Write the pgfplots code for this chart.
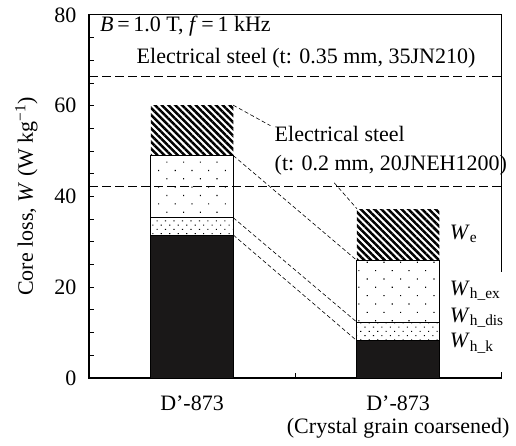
\documentclass[border=0pt]{standalone}
\usepackage{fontspec}
\setmainfont{Liberation Serif}
\usepackage{pgfplots}
\pgfplotsset{compat=1.18}
\usetikzlibrary{patterns.meta}

\definecolor{barblack}{RGB}{26,24,24}
\newcommand\chartfont{\fontsize{22}{23}\selectfont}

% core-loss components (W/kg): kinetic, dislocation, excess hysteresis, eddy current
\pgfplotstableread{
x   hk    hdis  hex   e
0   31.5  3.8   13.7  11.1
1   8.2   4.1   13.6  11.3
}\losstable

\begin{document}
\chartfont
\begin{tikzpicture}[every node/.append style={font=\chartfont}]
\pgfplotsset{
  frame/.style={
    width=412pt, height=363pt, scale only axis,
    xmin=-0.5, xmax=1.5, ymin=0, ymax=80,
  },
}
\begin{axis}[
  frame,
  ybar stacked, bar width=0.4,
  axis line style={line width=1.1pt},
  tick align=inside,
  major tick length=5pt, minor tick length=5pt,
  tick style={line width=0.9pt, black},
  ytick={0,20,40,60,80},
  minor ytick={5,10,...,75},
  ytick pos=left,
  xtick={0.5,1.5}, xticklabels={},
  xtick pos=bottom,
  extra x ticks={0,1},
  extra x tick labels={D’-873, {D’-873\\(Crystal grain coarsened)}},
  extra x tick style={major tick length=0pt,
    tick label style={align=center, yshift=-10pt, font=\chartfont}},
  /pgf/number format/assume math mode=true,
  tick label style={font=\chartfont},
  yticklabel style={xshift=-5pt},
  ylabel={Core loss, \textit{W} (W kg\textsuperscript{−1})},
  ylabel style={font=\chartfont, yshift=2pt},
]
\addplot[fill=barblack, draw=black, line width=0.9pt] table[x=x, y=hk] {\losstable};
\addplot[pattern={Dots[distance=6pt, angle=45, radius=0.75pt]}, draw=black, line width=0.9pt] table[x=x, y=hdis] {\losstable};
\addplot[pattern={Dots[distance=11.8pt, angle=45, radius=0.8pt]}, draw=black, line width=0.9pt] table[x=x, y=hex] {\losstable};
\addplot[pattern={Lines[angle=-45, distance=4.8pt, line width=2.5pt]}, draw=none] table[x=x, y=e] {\losstable};
\coordinate (bbll) at (rel axis cs:-0.216,-0.187);
\coordinate (bbur) at (rel axis cs:1.036,1.041);
\end{axis}

\begin{axis}[frame, hide axis, clip=false]
% reference steels
\addplot[black, line width=0.9pt, dash pattern=on 9pt off 4pt] coordinates {(-0.5,66.4) (1.5,66.4)};
\addplot[black, line width=0.9pt, dash pattern=on 9pt off 4pt] coordinates {(-0.5,42.2) (1.5,42.2)};
% leaders linking the components of the two bars
\addplot[black, line width=0.6pt, dash pattern=on 4pt off 2.5pt] coordinates {(0.2,60.1) (0.38,55.6)};
\addplot[black, line width=0.6pt, dash pattern=on 4pt off 2.5pt] coordinates {(0.69,43.0) (0.8,37.3)};
\addplot[black, line width=0.6pt, dash pattern=on 4pt off 2.5pt] coordinates {(0.2,49.0) (0.8,25.9)};
\addplot[black, line width=0.6pt, dash pattern=on 4pt off 2.5pt] coordinates {(0.2,35.3) (0.8,12.3)};
\addplot[black, line width=0.6pt, dash pattern=on 4pt off 2.5pt] coordinates {(0.2,31.5) (0.8,8.2)};
% right frame is interrupted beside the component labels
\addplot[white, line width=3pt] coordinates {(1.5,23.4) (1.5,1.3)};
\node[anchor=base west, inner sep=0pt] at (axis cs:-0.447,76.3) {\textit{B}\,=\,1.0 T, \textit{f}\,=\,1 kHz};
\node[anchor=base, inner sep=0pt] at (axis cs:0.553,69.2) {Electrical steel (t: 0.35 mm, 35JN210)};
\node[anchor=base west, inner sep=0pt] at (axis cs:0.40,52.0) {Electrical steel};
\node[anchor=base west, inner sep=0pt] at (axis cs:0.40,45.7) {(t: 0.2 mm, 20JNEH1200)};
\node[anchor=west, inner sep=0pt] at (axis cs:1.25,31.8) {\textit{W}\textsubscript{e}};
\node[anchor=west, inner sep=0pt] at (axis cs:1.25,19.2) {\textit{W}\textsubscript{h\_ex}};
\node[anchor=west, inner sep=0pt] at (axis cs:1.25,13.3) {\textit{W}\textsubscript{h\_dis}};
\node[anchor=west, inner sep=0pt] at (axis cs:1.25,7.6) {\textit{W}\textsubscript{h\_k}};
\end{axis}
\pgfresetboundingbox
\path (bbll) rectangle (bbur);
\end{tikzpicture}
\end{document}
